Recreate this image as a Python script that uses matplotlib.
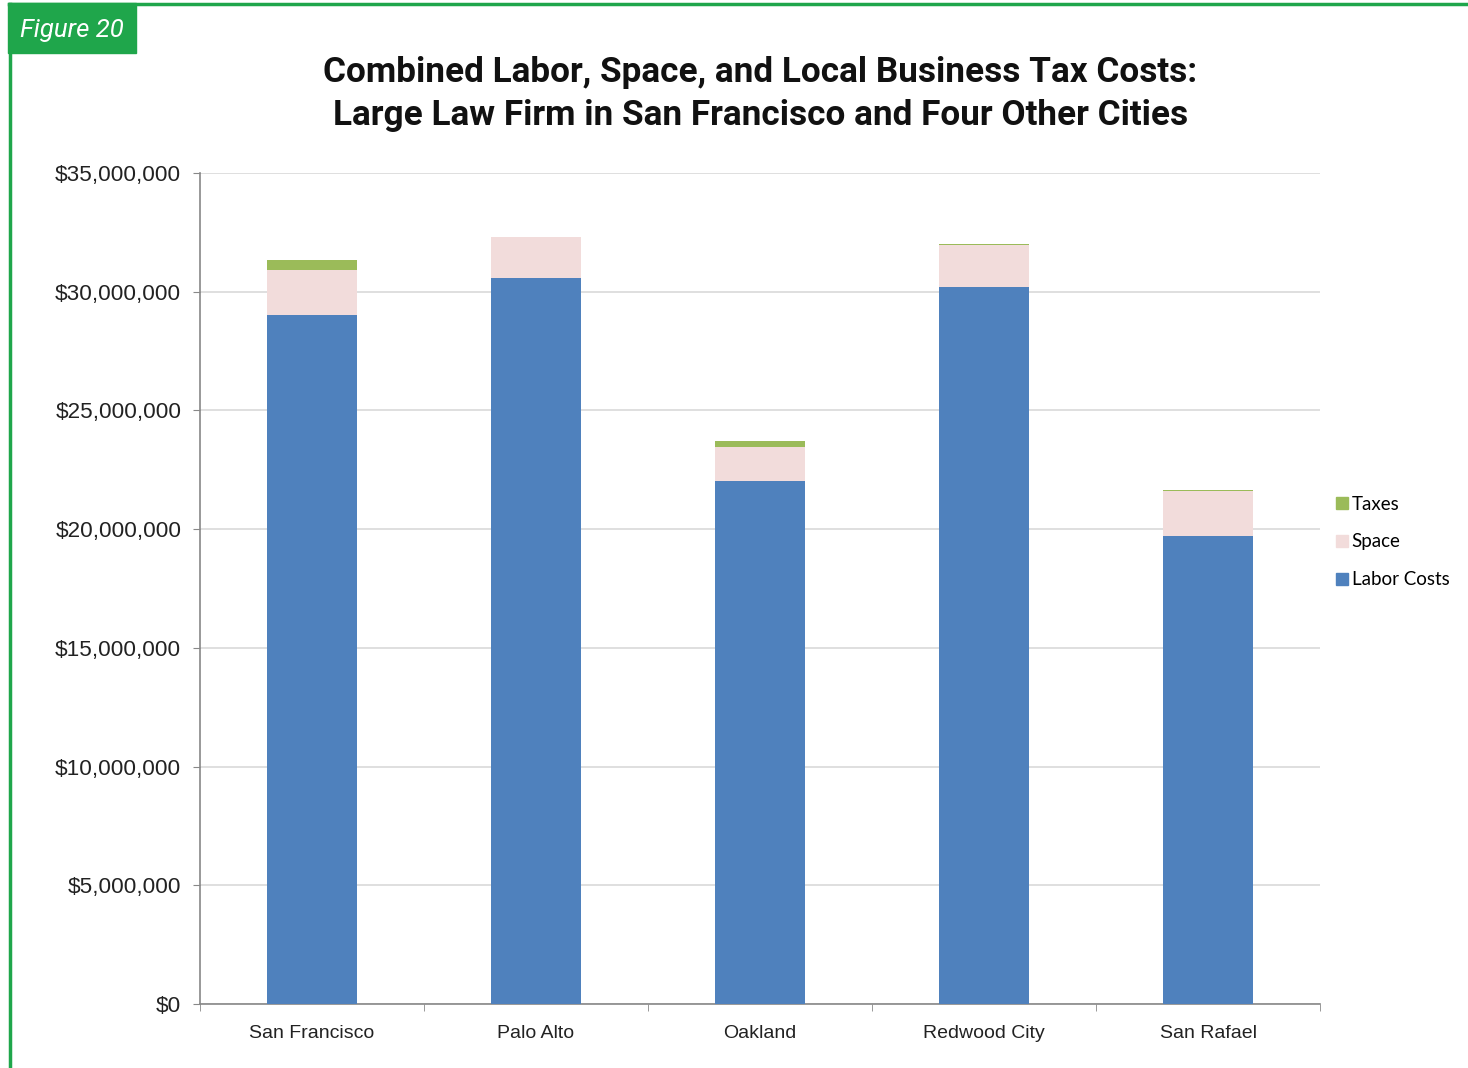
import numpy as np
import matplotlib.pyplot as plt
from matplotlib.patches import Rectangle
from matplotlib.lines import Line2D
from matplotlib.ticker import FuncFormatter, MultipleLocator

cities = ["San Francisco", "Palo Alto", "Oakland", "Redwood City", "San Rafael"]
labor = [29.02e6, 30.59e6, 22.02e6, 30.20e6, 19.73e6]
space = [1.89e6, 1.71e6, 1.46e6, 1.78e6, 1.87e6]
taxes = [0.43e6, 0.02e6, 0.24e6, 0.03e6, 0.04e6]

c_labor = "#4F81BD"
c_space = "#F2DCDB"
c_taxes = "#9BBB59"
green = "#1FA64B"

fig = plt.figure(figsize=(14.68, 10.68), dpi=100)
ax = fig.add_axes([200 / 1468, 64 / 1068, 1120 / 1468, 831 / 1068])

x = np.arange(len(cities))
w = 0.40
lab = np.array(labor)
spc = np.array(space)
ax.bar(x, labor, w, color=c_labor, zorder=3)
ax.bar(x, space, w, bottom=lab, color=c_space, zorder=3)
ax.bar(x, taxes, w, bottom=lab + spc, color=c_taxes, zorder=3)

ax.set_xlim(-0.5, len(cities) - 0.5)
ax.set_ylim(0, 35e6)
ax.yaxis.set_major_locator(MultipleLocator(5e6))
ax.yaxis.set_major_formatter(FuncFormatter(lambda v, p: "${:,.0f}".format(v)))
ax.grid(axis="y", color="#D9D9D9", linewidth=1.2, zorder=0)

ax.set_xticks(x)
ax.set_xticklabels(cities)
ax.set_xticks(np.arange(-0.5, len(cities)), minor=True)
ax.tick_params(axis="x", which="major", length=0, pad=15, labelsize=14, labelcolor="#222222")
ax.tick_params(axis="x", which="minor", length=5, color="#888888", direction="out")
ax.tick_params(axis="y", length=5, color="#888888", pad=8.5, labelsize=16.2, labelcolor="#222222")
for lbl in ax.get_xticklabels() + ax.get_yticklabels():
    lbl.set_fontfamily("Liberation Sans")

for s in ["top", "right"]:
    ax.spines[s].set_visible(False)
for s in ["left", "bottom"]:
    ax.spines[s].set_color("#888888")
    ax.spines[s].set_linewidth(1.2)

# legend, taxes on top
handles = [Line2D([], [], marker="s", linestyle="none", markersize=9, color=c)
           for c in (c_taxes, c_space, c_labor)]
leg = fig.legend(handles, ["Taxes", "Space", "Labor Costs"], loc="center left",
                 bbox_to_anchor=(1318 / 1468, 1 - 542 / 1068), frameon=False,
                 handlelength=0.8, handletextpad=0.1, labelspacing=1.1,
                 prop={"family": "Lato", "size": 13.5})

fig.text(0.518, 1 - 94 / 1068,
         "Combined Labor, Space, and Local Business Tax Costs:\n"
         "Large Law Firm in San Francisco and Four Other Cities",
         ha="center", va="center", fontsize=25.3, fontweight="bold",
         family=["Roboto", "DejaVu Sans"], linespacing=1.37, color="#111111")

# green frame and figure tab
fig.add_artist(Line2D([9 / 1468, 1], [1 - 4 / 1068, 1 - 4 / 1068], color=green, linewidth=2.5,
                      transform=fig.transFigure))
fig.add_artist(Line2D([9.5 / 1468, 9.5 / 1468], [0, 1 - 4 / 1068], color=green, linewidth=2.5,
                      transform=fig.transFigure))
fig.add_artist(Rectangle((8 / 1468, 1 - 53 / 1068), 128 / 1468, 50 / 1068, color=green,
                         transform=fig.transFigure))
fig.text(72 / 1468, 1 - 30 / 1068, "Figure 20", ha="center", va="center", color="white",
         fontsize=18.5, style="italic", family=["Roboto", "DejaVu Sans"])

fig.savefig("out.png", dpi=100)
